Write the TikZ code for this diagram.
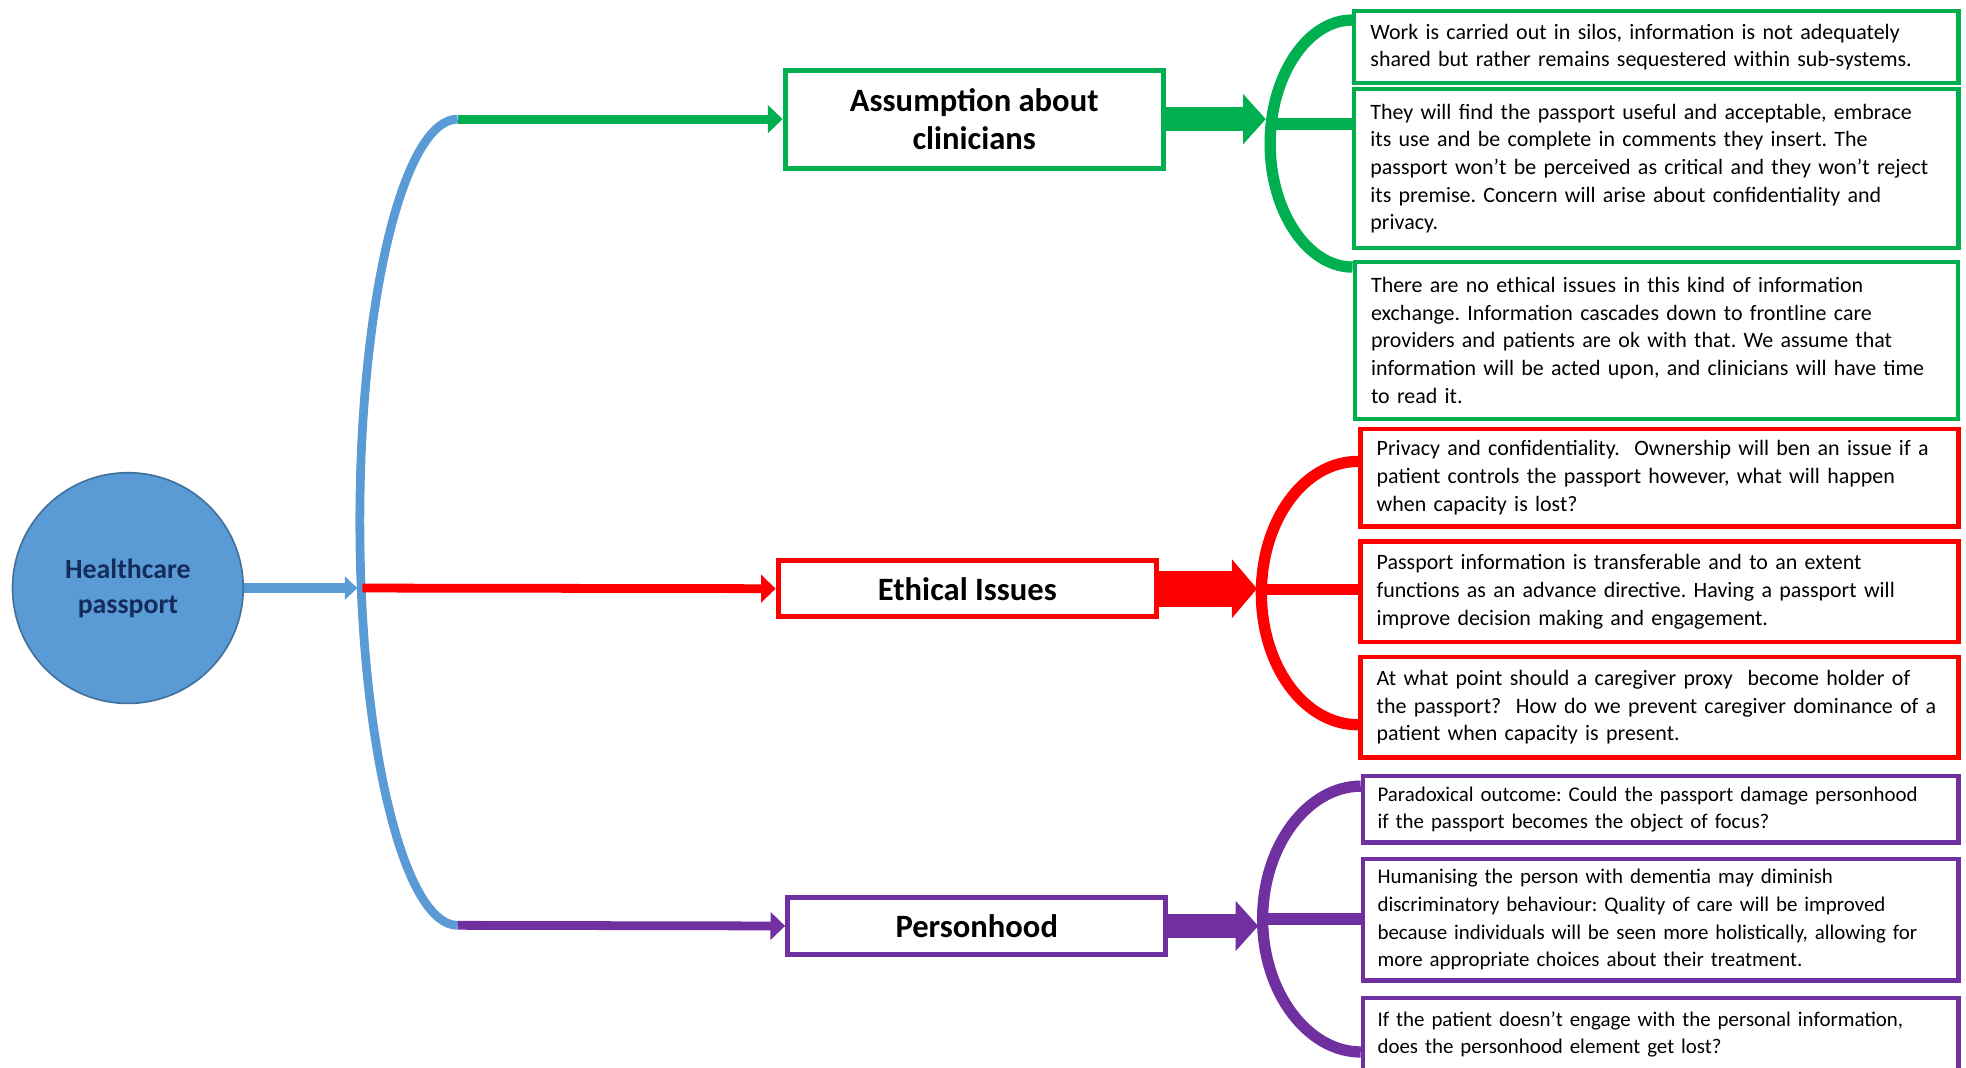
\documentclass[tikz,border=0pt]{standalone}
\usepackage{fontspec}
\setmainfont{Carlito}
\usepackage{tikz}
\usetikzlibrary{arrows.meta}
\frenchspacing
\hyphenpenalty=10000
\newcommand\tightwords{\fontsize{10}{13.2}\selectfont\spaceskip=1.7pt plus 1pt minus 0.5pt\relax}

\definecolor{hpblue}{HTML}{5B9BD5}
\definecolor{hpedge}{HTML}{41719C}
\definecolor{hpnavy}{HTML}{142C5C}
\definecolor{cgreen}{HTML}{00B050}
\definecolor{cred}{HTML}{FF0000}
\definecolor{cpurple}{HTML}{7030A0}

\begin{document}
\begin{tikzpicture}[x=0.6pt,y=-0.6pt,
    head/.style={draw=#1, line width=2.4pt, align=center, minimum width=181pt, font=\fontsize{15.6}{18.6}\selectfont\bfseries},
    note/.style={draw=#1, line width=2.1pt, inner xsep=7.8pt, inner ysep=0pt, align=left, font=\fontsize{10.5}{13.2}\selectfont},
    pnote/.style={note=cpurple, inner xsep=7pt, text width=271pt, font=\tightwords},
    bracket/.style={line width=5.4pt, draw=#1},
    feed/.style={line width=4.2pt, draw=#1, fill=#1, -{Triangle[length=7pt,width=13pt]}},
    block/.style={line width=11.4pt, draw=#1, fill=#1, -{Triangle[length=10.8pt,width=23.4pt]}}]
    \useasboundingbox (0,0) rectangle (1568,851);

    \node[circle, fill=hpblue, draw=hpedge, line width=0.8pt, minimum size=110.4pt, align=center, text=hpnavy, font=\fontsize{13.3}{16.8}\selectfont\bfseries] (hp) at (102,469) {Healthcare\\passport};

    \coordinate (bt) at (365,95);
    \coordinate (bm) at (287,416);
    \coordinate (bb) at (365,738);
    \coordinate (bj) at (289,469);
    \draw [line width=4.2pt, hpblue] (bt) .. controls (322,95) and (287,239) .. (bm) .. controls (287,593) and (322,738) .. (bb);
    \draw [line width=4.8pt, hpblue, shorten >=2.4pt, -{Triangle[length=6pt,width=11pt]}] (hp.east) -- (bj);

    \node[head=cgreen, minimum height=46.8pt] (ac) at (777,95) {Assumption about\\clinicians};
    \node[head=cred, minimum height=27pt] (ei) at (771.5,469.5) {Ethical Issues};
    \node[head=cpurple, minimum height=27pt] (ph) at (779,738.5) {Personhood};

    \draw [feed=cgreen] (bt) -- (ac.west);
    \draw [feed=cred] (bj) -- (ei.west);
    \draw [feed=cpurple] (bb) -- (ph.west);

    \node[note=cgreen, text width=273.6pt, minimum height=34.2pt] (g1) at (1321,37.5) {Work is carried out in silos, information is not adequately\\shared but rather remains sequestered within sub-systems.};
    \node[note=cgreen, text width=273.6pt, minimum height=76.2pt] (g2) at (1321,134.5) {They will find the passport useful and acceptable, embrace\\its use and be complete in comments they insert. The\\passport won’t be perceived as critical and they won’t reject\\its premise. Concern will arise about confidentiality and\\privacy.};
    \node[note=cgreen, text width=273pt, minimum height=75pt] (g3) at (1321,271.5) {There are no ethical issues in this kind of information\\exchange. Information cascades down to frontline care\\providers and patients are ok with that. We assume that\\information will be acted upon, and clinicians will have time\\to read it.};

    \node[note=cred, text width=270.6pt, minimum height=46.8pt] (r1) at (1323.5,381) {Privacy and confidentiality.\ \ Ownership will ben an issue if a\\patient controls the passport however, what will happen\\when capacity is lost?};
    \node[note=cred, text width=270.6pt, minimum height=48pt] (r2) at (1323.5,472) {Passport information is transferable and to an extent\\functions as an advance directive. Having a passport will\\improve decision making and engagement.};
    \node[note=cred, text width=270.6pt, minimum height=48pt] (r3) at (1323.5,564) {At what point should a caregiver proxy\ \ become holder of\\the passport?\ \ How do we prevent caregiver dominance of a\\patient when capacity is present.};

    \node[pnote, minimum height=31.8pt] (p1) at (1324.5,645.5) {Paradoxical outcome: Could the passport damage personhood\\if the passport becomes the object of focus?};
    \node[pnote, minimum height=58.2pt] (p2) at (1324.5,733.5) {Humanising the person with dementia may diminish\\discriminatory behaviour: Quality of care will be improved\\because individuals will be seen more holistically, allowing for\\more appropriate choices about their treatment.};
    \node[pnote, minimum height=34.8pt] (p3) at (1324.5,825) {If the patient doesn’t engage with the personal information,\\does the personhood element get lost?};

    \coordinate (gb) at (1014,99);
    \draw [bracket=cgreen] (g1.west |- 0,16) .. controls (1043,16) and (1013,60) .. (1013,114.5) .. controls (1013,169) and (1043,213) .. (g3.west |- 0,213);
    \draw [bracket=cgreen] (gb) -- (g2.west |- gb);
    \draw [block=cgreen, shorten >=2.7pt] (ac.east) -- (ac.east -| gb);

    \coordinate (rb) at (1007,470);
    \draw [bracket=cred] (r1.west |- 0,368) .. controls (1040,368) and (1006,415) .. (1006,473) .. controls (1006,531) and (1040,578) .. (r3.west |- 0,578);
    \draw [bracket=cred] (rb) -- (r2.west |- rb);
    \draw [block=cred, line width=17.4pt, -{Triangle[length=12pt,width=27.6pt]}, shorten >=2.7pt] (ei.east) -- (ei.east -| rb);

    \coordinate (pb) at (1008,733);
    \draw [bracket=cpurple] (p1.west |- 0,627) .. controls (1043,627) and (1007,674.5) .. (1007,733) .. controls (1007,791.5) and (1043,839) .. (p3.west |- 0,839);
    \draw [bracket=cpurple] (pb) -- (p2.west |- pb);
    \draw [block=cpurple, shorten >=2.7pt] (ph.east) -- (ph.east -| pb);
\end{tikzpicture}
\end{document}
